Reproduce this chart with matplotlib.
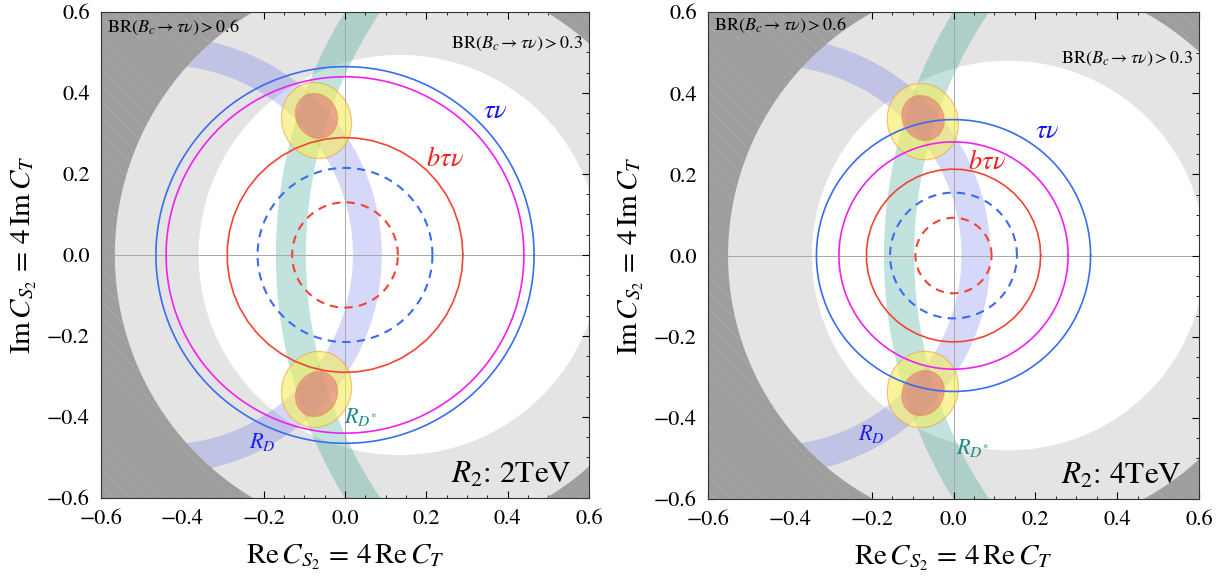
import numpy as np
import matplotlib
matplotlib.use("Agg")
import matplotlib.pyplot as plt
from matplotlib.patches import PathPatch, Ellipse, Circle
from matplotlib.path import Path
from matplotlib.ticker import MultipleLocator

# one entry per panel
mass_labels = ["2TeV", "4TeV"]
tau_nu_r = [0.465, 0.335]        # blue solid
magenta_r = [0.44, 0.28]         # magenta solid
b_tau_nu_r = [0.29, 0.213]       # red solid
tau_nu_dash_r = [0.215, 0.155]   # blue dashed
b_tau_nu_dash_r = [0.13, 0.093]  # red dashed
br_center = [0.134, 0.134]
br03_r = [0.494, 0.48]
br06_r = [0.70, 0.685]

# R_D and R_D* bands (annuli centred on real axis)
rd_band = (-0.449, 0.504, 0.071)
rds_band = (0.978, 1.111, 0.074)

# fit regions (upper half; lower half mirrored)
yellow_cx = [-0.070, -0.075]
yellow_cy = [0.332, 0.330]
yellow_w = [0.170, 0.172]
yellow_h = [0.190, 0.190]
red_cx = [-0.070, -0.0745]
red_cy = [0.3435, 0.339]
red_w = [0.100, 0.100]
red_h = [0.114, 0.114]

plt.rcParams.update({
    "font.family": "STIXGeneral",
    "mathtext.fontset": "stix",
    "font.size": 16,
    "xtick.direction": "in",
    "ytick.direction": "in",
    "xtick.top": True,
    "ytick.right": True,
    "axes.edgecolor": "#333333",
    "hatch.linewidth": 0.5,
})

def circle_pts(cx, cy, r, n=400):
    t = np.linspace(0, 2*np.pi, n)
    return cx + r*np.cos(t), cy + r*np.sin(t)

def ring_path(cx, r_in, r_out, n=400):
    xo, yo = circle_pts(cx, 0, r_out, n)
    xi, yi = circle_pts(cx, 0, r_in, n)
    verts = np.concatenate([np.c_[xo, yo], np.c_[xi, yi][::-1]])
    codes = np.full(len(verts), Path.LINETO)
    codes[0] = Path.MOVETO
    codes[n] = Path.MOVETO
    return Path(verts, codes)

def outside_path(cx, r, n=400):
    sq = np.array([[-2, -2], [2, -2], [2, 2], [-2, 2], [-2, -2]])
    xi, yi = circle_pts(cx, 0, r, n)
    verts = np.concatenate([sq, np.c_[xi, yi][::-1]])
    codes = np.full(len(verts), Path.LINETO)
    codes[0] = Path.MOVETO
    codes[len(sq)] = Path.MOVETO
    return Path(verts, codes)

fig = plt.figure(figsize=(12.23, 5.81), dpi=100)
ax_pos = [[0.0826, 0.1429, 0.3990, 0.8365], [0.5789, 0.1411, 0.4015, 0.8382]]

for i in range(2):
    ax = fig.add_axes(ax_pos[i])
    ax.set_facecolor("#e4e4e4")
    ax.add_patch(Circle((br_center[i], 0), br03_r[i], facecolor="white",
                        edgecolor="none", zorder=0.5))

    # bands
    c, r, w = rd_band
    ax.add_patch(PathPatch(ring_path(c, r - w/2, r + w/2), facecolor="#5a64e6",
                           alpha=0.25, edgecolor="none", zorder=1))
    c, r, w = rds_band
    ax.add_patch(PathPatch(ring_path(c, r - w/2, r + w/2), facecolor="#1e9682",
                           alpha=0.27, edgecolor="none", zorder=1))

    # dark region BR > 0.6
    ax.add_patch(PathPatch(outside_path(br_center[i], br06_r[i]), facecolor="#9e9e9e",
                           edgecolor="#adadad", hatch="\\\\", lw=0, zorder=2))

    ax.axhline(0, color="#a8a8a8", lw=0.7, zorder=1.5)
    ax.axvline(0, color="#a8a8a8", lw=0.7, zorder=1.5)

    # fit regions
    for s in (1, -1):
        ax.add_patch(Ellipse((yellow_cx[i], s*yellow_cy[i]), yellow_w[i], yellow_h[i],
                             angle=s*20, facecolor="#f5ee5a", alpha=0.6,
                             edgecolor="#f0a040", lw=0.9, zorder=3))
        ax.add_patch(Ellipse((red_cx[i], s*red_cy[i]), red_w[i], red_h[i],
                             angle=s*30, facecolor="#e0607a", alpha=0.5,
                             edgecolor="#f08040", lw=0.9, zorder=3.1))

    # contours
    ax.plot(*circle_pts(0, 0, tau_nu_r[i]), color="#3a6cf0", lw=1.2, zorder=4)
    ax.plot(*circle_pts(0, 0, magenta_r[i]), color="#f020f0", lw=1.2, zorder=4)
    ax.plot(*circle_pts(0, 0, b_tau_nu_r[i], 48), color="#f04535", lw=1.2, zorder=4)
    ax.plot(*circle_pts(0, 0, tau_nu_dash_r[i]), color="#3a6cf0", lw=1.5,
            ls=(0, (4, 3)), zorder=4)
    ax.plot(*circle_pts(0, 0, b_tau_nu_dash_r[i]), color="#f04535", lw=1.5,
            ls=(0, (4, 3)), zorder=4)

    ax.set_xlim(-0.6, 0.6)
    ax.set_ylim(-0.6, 0.6)
    ax.xaxis.set_minor_locator(MultipleLocator(0.05))
    ax.yaxis.set_minor_locator(MultipleLocator(0.05))
    ax.tick_params(which="major", length=5, width=0.8, pad=8)
    ax.tick_params(which="minor", length=2.5, width=0.6)
    ticks = np.arange(-0.6, 0.61, 0.2)
    tick_labels = [f"{v:.1f}".replace("-", "\u2212") for v in ticks]
    ax.set_xticks(ticks)
    ax.set_xticklabels(tick_labels)
    ax.set_yticks(ticks)
    ax.set_yticklabels(tick_labels)
    for sp in ax.spines.values():
        sp.set_zorder(6)

    ax.set_xlabel(r"$\mathrm{Re}\,C_{S_2}\,=\,4\,\mathrm{Re}\,C_T$", fontsize=21, labelpad=10)
    ax.set_ylabel(r"$\mathrm{Im}\,C_{S_2}\,=\,4\,\mathrm{Im}\,C_T$", fontsize=21, labelpad=6)

    # annotations
    ax.text(0.012, [0.959, 0.963][i], r"$\mathrm{BR}(B_c\rightarrow\tau\nu) > 0.6$",
            transform=ax.transAxes, fontsize=13, ha="left", va="baseline", zorder=7)
    ax.text(0.988, [0.926, 0.895][i], r"$\mathrm{BR}(B_c\rightarrow\tau\nu) > 0.3$",
            transform=ax.transAxes, fontsize=13, ha="right", va="baseline", zorder=7)
    tx = [(0.369, 0.353), (0.229, 0.304)][i]
    ax.text(*tx, r"$\tau\nu$", color="#1414f0", fontsize=19, ha="center", va="center", zorder=7)
    bx = [(0.246, 0.235), (0.082, 0.227)][i]
    ax.text(*bx, r"$b\tau\nu$", color="#f01e1e", fontsize=19, ha="center", va="center", zorder=7)
    rx = [(-0.204, -0.462), (-0.2, -0.44)][i]
    ax.text(*rx, r"$R_D$", color="#1e1ee6", fontsize=16, ha="center", va="center", zorder=7)
    sx = [(0.04, -0.40), (0.048, -0.474)][i]
    ax.text(*sx, r"$R_{D^{*}}$", color="#1a8a80", fontsize=16, ha="center", va="center", zorder=7)
    ax.text(0.558, -0.563, r"$R_2$: " + mass_labels[i], fontsize=22.5, ha="right",
            va="baseline", zorder=7)

fig.savefig("out.png", dpi=100)
